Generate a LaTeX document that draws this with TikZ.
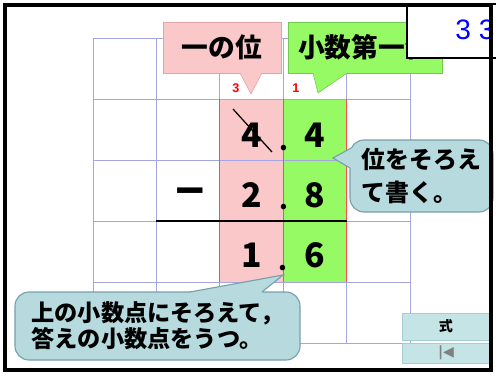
\documentclass[tikz,border=0pt]{standalone}
\usepackage{fontspec}
\setmainfont{Liberation Sans}
\newfontfamily\jp{Noto Sans CJK JP}
\newfontfamily\symf{DejaVu Sans}
\usetikzlibrary{positioning}

\definecolor{gridc}{RGB}{165,165,225}
\definecolor{pinkc}{RGB}{250,200,200}
\definecolor{pinkline}{RGB}{225,165,165}
\definecolor{greenc}{RGB}{150,250,100}
\definecolor{greenline}{RGB}{115,200,80}
\definecolor{tipc}{RGB}{182,218,222}
\definecolor{tipline}{RGB}{120,160,170}
\definecolor{btnc}{RGB}{196,228,230}
\definecolor{btnline}{RGB}{165,205,210}

\begin{document}
\begin{tikzpicture}[
  gridline/.style={gridc,line width=0.7pt},
  digit/.style={font=\jp\bfseries\fontsize{24}{24}\selectfont,inner sep=0pt},
  dot/.style={font=\jp\bfseries\fontsize{18}{18}\selectfont,inner sep=0pt,anchor=base},
  tag/.style={minimum width=2.95cm,minimum height=1.275cm,inner sep=0pt,font=\jp\bfseries\fontsize{19}{19}\selectfont},
  bubble/.style={draw=tipline,fill=tipc,rounded corners=0.35cm,line width=0.8pt,align=left,inner sep=0pt},
  btn/.style={draw=btnline,fill=btnc,minimum width=2.2cm,inner sep=0pt,font=\jp\bfseries\fontsize{10}{10}\selectfont},
  carry/.style={red,inner sep=0pt,font=\bfseries\fontsize{9}{9}\selectfont}]

\useasboundingbox (0,0) rectangle (12.4,9.4);
\fill[white] (0,0) rectangle (12.4,9.4);

\fill[pinkc] (5.495,2.35) rectangle (7.08,6.925);
\fill[greenc] (7.08,2.35) rectangle (8.665,6.925);
\foreach \i in {0,...,5}{\draw[gridline] (2.325+1.585*\i,0.825) -- (2.325+1.585*\i,8.45);}
\foreach \j in {0,...,5}{\draw[gridline] (2.325,0.825+1.525*\j) -- (10.25,0.825+1.525*\j);}
\foreach \x in {5.495,7.08,8.665}{\draw[red!70,line width=0.5pt] (\x,2.35) -- (\x,6.925);}
\draw[line width=2pt] (3.91,3.875) -- (8.665,3.875);

\node[digit] (a1) at (6.2875,6.025) {4};
\node[digit] (a2) at (7.8725,6.025) {4};
\node[digit] (b1) at (6.2875,4.525) {2};
\node[digit] (b2) at (7.8725,4.525) {8};
\node[digit] (c1) at (6.2875,3.025) {1};
\node[digit] (c2) at (7.8725,3.025) {6};
\node[digit,font=\bfseries\fontsize{36}{36}\selectfont] (minus) at (4.75,4.45) {−};
\node[dot] (adot) at (7.1,5.64) {.};
\node[dot] (bdot) at (7.1,4.17) {.};
\node[dot] (cdot) at (7.08,2.64) {.};
\draw[line width=0.9pt] (5.825,6.675) -- (6.8,5.6);

\node[carry] (carryA) at (5.9,7.2) {3};
\node[carry] (carryB) at (7.4,7.2) {1};

\node[tag,fill=pinkc,draw=pinkline] (ones) at (5.55,8.2125) {一の位};
\fill[pinkc] (6.0,7.63) -- (6.0,7.575) -- (6.275,7.05) -- (6.55,7.575) -- (6.55,7.63) -- cycle;
\draw[pinkline] (6.0,7.575) -- (6.275,7.05) -- (6.55,7.575);

\node[tag,fill=greenc,draw=greenline,minimum width=3.85cm] (tenths) at (9.125,8.2125) {小数第一位};
\fill[greenc] (7.825,7.63) -- (7.825,7.575) -- (7.95,7.075) -- (8.675,7.575) -- (8.675,7.63) -- cycle;
\draw[greenline] (7.825,7.575) -- (7.95,7.075) -- (8.675,7.575);

\node[bubble,minimum width=3.575cm,minimum height=1.8cm,font=\jp\bfseries\fontsize{17}{23.4}\selectfont] (align) at (10.5375,5.0) {位をそろえ\\て書く。};
\fill[tipc] (8.85,5.7) -- (8.78,5.7) -- (8.325,5.45) -- (8.75,5.2) -- (8.85,5.2) -- cycle;
\draw[tipline,line width=0.8pt] (8.78,5.7) -- (8.325,5.45) -- (8.75,5.2);

\node[bubble,minimum width=7.125cm,minimum height=1.7cm,font=\jp\bfseries\fontsize{16.5}{18.5}\selectfont] (hint) at (3.9375,1.25) {上の小数点にそろえて，\\答えの小数点をうつ。};
\fill[tipc] (4.75,2.05) -- (4.75,2.1) -- (7.075,2.525) -- (6.55,2.1) -- (6.55,2.05) -- cycle;
\draw[tipline,line width=0.8pt] (4.75,2.1) -- (7.075,2.525) -- (6.55,2.1);

\node[btn,minimum height=0.675cm] (formula) at (11.15,1.2375) {式};
\node[btn,minimum height=0.5cm] (back) at (11.15,0.575) {\symf\textcolor{gray}{|◀}};

\filldraw[fill=white,line width=2.1pt] (10.175,7.95) rectangle (12.6,9.3);
\node[text=blue,font=\fontsize{20}{20}\selectfont] (page) at (11.875,8.65) {3 3};

\draw[line width=2.8pt] (0.125,0.15) rectangle (12.275,9.275);
\end{tikzpicture}
\end{document}
